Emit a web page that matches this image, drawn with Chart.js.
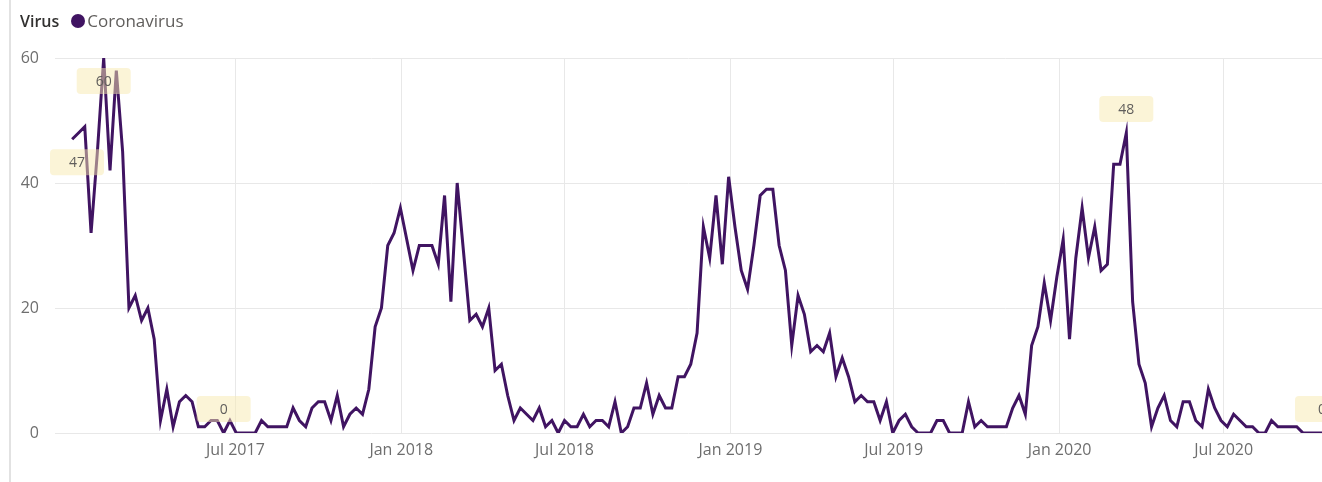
<!DOCTYPE html>
<html>
<head>
<meta charset="utf-8">
<script src="https://cdn.jsdelivr.net/npm/chart.js@4.4.1/dist/chart.umd.min.js"></script>
<style>
html,body{margin:0;padding:0;background:#fff;width:1322px;height:482px;overflow:hidden;}
#wrap{position:relative;width:1322px;height:482px;}
#c{position:absolute;left:0;top:0;}
#border{position:absolute;left:9px;top:0;width:0;height:482px;border-left:2px solid #e2e2e2;}
#legend{position:absolute;left:20px;top:10px;font-family:"Open Sans","Segoe UI",sans-serif;font-size:17px;line-height:22px;color:#605e5c;white-space:nowrap;display:flex;align-items:center;}
#legend .title{color:#323130;font-weight:600;font-size:16px;margin-right:12px;}
#legend .dot{display:inline-block;width:14px;height:14px;border-radius:50%;background:#401462;margin-right:2px;}
</style>
</head>
<body>
<div id="wrap">
  <canvas id="c" width="1322" height="482"></canvas>
  <div id="border"></div>
  <div id="legend"><span class="title">Virus</span><span class="dot"></span><span>Coronavirus</span></div>
</div>
<script>
// ---- data ----
const startDate = "2017-01-01";   // first weekly observation
const weekStepDays = 7;
const coronavirus = [
  47,48,49,32,45,60,42,58,45,20, 22,18,20,15,2,7,1,5,6,5,
  1,1,2,2,0,2,0,0,0,0, 2,1,1,1,1,4,2,1,4,5,
  5,2,6,1,3,4,3,7,17,20, 30,32,36,31,26,30,30,30,27,38,
  21,40,29,18,19,17,20,10,11,6, 2,4,3,2,4,1,2,0,2,1,
  1,3,1,2,2,1,5,0,1,4, 4,8,3,6,4,4,9,9,11,16,
  33,28,38,27,41,33,26,23,30,38, 39,39,30,26,14,22,19,13,14,13,
  16,9,12,9,5,6,5,5,2,5, 0,2,3,1,0,0,0,2,2,0,
  0,0,5,1,2,1,1,1,1,4, 6,3,14,17,24,18,25,31,15,28,
  36,28,33,26,27,43,43,48,21,11, 8,1,4,6,2,1,5,5,2,1,
  7,4,2,1,3,2,1,1,0,0, 2,1,1,1,1,0,0,0,0
];
const xTickDates = ["2017-07-01","2018-01-01","2018-07-01","2019-01-01","2019-07-01","2020-01-01","2020-07-01"];
const xTickLabels = ["Jul 2017","Jan 2018","Jul 2018","Jan 2019","Jul 2019","Jan 2020","Jul 2020"];
const yTicks = [0, 20, 40, 60];
const labelledPoints = [0, 5, 24, 167, 198];
const xAxisStartDate = "2016-12-13";

// ---- helpers ----
const dayOf = s => (Date.parse(s + "T00:00:00Z") - Date.parse(startDate + "T00:00:00Z")) / 86400000;
const points = coronavirus.map((v, i) => ({ x: i * weekStepDays, y: v }));
const tickDays = xTickDates.map(dayOf);
const FONT = '"Open Sans","Segoe UI",sans-serif';

const labelPlugin = {
  id: "pointLabels",
  afterDatasetsDraw(chart, args, opts) {
    const meta = chart.getDatasetMeta(0);
    const c = chart.ctx;
    c.save();
    c.font = "14px " + FONT;
    c.textAlign = "center";
    c.textBaseline = "middle";
    labelledPoints.forEach(idx => {
      const el = meta.data[idx];
      if (!el) return;
      const w = 54, h = 26;
      const below = opts.below.includes(idx);
      const cx = Math.max(el.x, opts.minLeft + w / 2);
      const cy = el.y + (below ? 23 : -24);
      c.globalAlpha = 0.5;
      c.fillStyle = "#f8e9b0";
      c.beginPath();
      c.roundRect(cx - w / 2, cy - h / 2, w, h, 4);
      c.fill();
      c.globalAlpha = 1;
      c.fillStyle = "#605e5c";
      c.fillText(String(coronavirus[idx]), cx, cy + 1);
    });
    c.restore();
  }
};

new Chart(document.getElementById("c"), {
  type: "line",
  data: {
    datasets: [{
      label: "Coronavirus",
      data: points,
      borderColor: "#401462",
      backgroundColor: "#401462",
      borderWidth: 3,
      pointRadius: 0,
      tension: 0,
      fill: false
    }]
  },
  options: {
    responsive: false,
    animation: false,
    devicePixelRatio: 1,
    layout: { padding: { top: 58, left: 0, right: 0, bottom: 0 } },
    plugins: {
      legend: { display: false },
      tooltip: { enabled: false },
      pointLabels: { below: [0, 5], minLeft: 50 }
    },
    scales: {
      x: {
        type: "linear",
        min: dayOf(xAxisStartDate),
        max: (coronavirus.length - 1) * weekStepDays,
        afterBuildTicks: s => { s.ticks = tickDays.map(v => ({ value: v })); },
        afterFit: s => { s.height = 49; },
        grid: { color: "#e8e8e8", lineWidth: 1, drawTicks: false },
        border: { display: false },
        ticks: {
          padding: 8, color: "#6e6e6e", maxRotation: 0, autoSkip: false,
          font: { family: FONT, size: 16 },
          callback: v => { const i = tickDays.indexOf(v); return i >= 0 ? xTickLabels[i] : ""; }
        }
      },
      y: {
        min: 0, max: 60,
        afterBuildTicks: s => { s.ticks = yTicks.map(v => ({ value: v })); },
        afterFit: s => { s.width = 55; },
        grid: { color: "#e8e8e8", lineWidth: 1, drawTicks: false },
        border: { display: false },
        ticks: { padding: 16, color: "#6e6e6e", font: { family: FONT, size: 16 } }
      }
    }
  },
  plugins: [labelPlugin]
});
</script>
</body>
</html>
